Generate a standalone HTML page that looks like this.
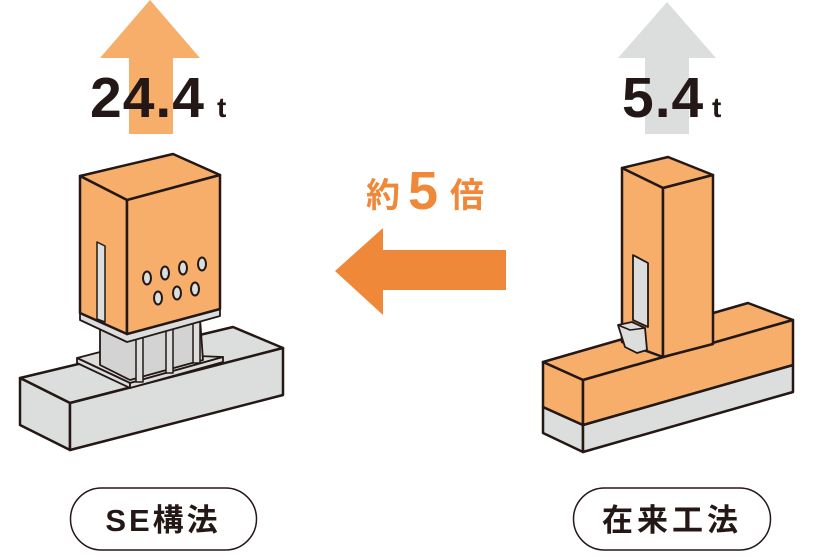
<!DOCTYPE html>
<html><head><meta charset="utf-8"><style>
html,body{margin:0;padding:0;background:#fff;width:813px;height:558px;overflow:hidden}
svg{display:block}
</style></head><body>
<svg width="813" height="558" viewBox="0 0 813 558" xmlns="http://www.w3.org/2000/svg">
<polygon points="150,0 200,58 173,58 173,134 129,134 129,58 100,58" fill="#f6ae6a"/>
<polygon points="667,2 716,58 689,58 689,134 645,134 645,58 618,58" fill="#dcdddd"/>
<g font-family="Liberation Sans, sans-serif" font-weight="bold" fill="#231815">
<text x="90" y="117" font-size="57" letter-spacing="1">24.4</text>
<text x="217" y="117" font-size="28">t</text>
<text x="622" y="117" font-size="57" letter-spacing="1">5.4</text>
<text x="712" y="117" font-size="28">t</text>
</g>
<g fill="#ef8838" font-weight="bold">
<text x="366" y="207" font-size="34" font-family="Noto Sans CJK JP, sans-serif">約</text>
<text x="408" y="209" font-size="54" font-family="Liberation Sans, sans-serif">5</text>
<text x="450" y="207" font-size="34" font-family="Noto Sans CJK JP, sans-serif">倍</text>
<polygon points="335,271 383,228 383,250 506,250 506,290 383,290 383,315" />
</g>
<g stroke="#231815" stroke-width="2.5" stroke-linejoin="round">
<polygon points="20,378 233,327 283,348 70,403" fill="#dcdddd"/>
<polygon points="20,378 70,403 70,450 20,425" fill="#dcdddd"/>
<polygon points="70,403 283,348 283,395 70,450" fill="#dcdddd"/>
<polygon points="77,358 100,352 223,357 130,383" fill="#dcdddd" stroke-width="1.8"/>
<polygon points="77,358 130,383 130,388 77,363" fill="#dcdddd" stroke-width="1.8"/>
<polygon points="130,383 223,357 223,362 130,388" fill="#dcdddd" stroke-width="1.8"/>
<polygon points="100,328 200,318 203,360 130,380 100,365" fill="#d3d3d3" stroke-width="1.8"/>
<rect x="136" y="330" width="7" height="52" fill="#dcdddd" stroke-width="1.5"/>
<rect x="166" y="325" width="7" height="48" fill="#dcdddd" stroke-width="1.5"/>
<rect x="193" y="318" width="7" height="45" fill="#dcdddd" stroke-width="1.5"/>
<polygon points="80,313 127,334 220,309 220,316 127,342 80,320" fill="#dcdddd" stroke-width="1.8"/>
<polygon points="80,176 173,154 220,175 127,200" fill="#f6ae6a"/>
<polygon points="80,176 127,200 127,334 80,313" fill="#f6ae6a"/>
<polygon points="127,200 220,175 220,309 127,334" fill="#f6ae6a"/>
<polygon points="97,242 105,246 105,322 97,319" fill="#dcdddd" stroke-width="1.5"/>
<g fill="#dcdddd" stroke-width="2">
<ellipse cx="147" cy="278" rx="4" ry="6.5"/><ellipse cx="165" cy="273" rx="4" ry="6.5"/>
<ellipse cx="183" cy="268" rx="4" ry="6.5"/><ellipse cx="202" cy="264" rx="4" ry="6.5"/>
<ellipse cx="158" cy="298" rx="4" ry="6.5"/><ellipse cx="177" cy="293" rx="4" ry="6.5"/>
<ellipse cx="195" cy="289" rx="4" ry="6.5"/>
</g>
<polygon points="543,362 748,303 793,320 583,380" fill="#f6ae6a"/>
<polygon points="543,407 583,425 583,452 543,433" fill="#dcdddd"/>
<polygon points="583,425 793,365 793,392 583,452" fill="#dcdddd"/>
<polygon points="543,362 583,380 583,425 543,407" fill="#f6ae6a"/>
<polygon points="583,380 793,320 793,365 583,425" fill="#f6ae6a"/>
<polygon points="622,168 668,157 713,175 663,188" fill="#f6ae6a"/>
<polygon points="622,168 663,188 663,357 622,342" fill="#f6ae6a"/>
<polygon points="663,188 713,175 713,344 663,357" fill="#f6ae6a"/>
<polygon points="633,255 648,263 648,327 633,320" fill="#dcdddd" stroke-width="1.8"/>
<polygon points="618,325 632,322 645,328 647,350 637,353 625,347" fill="#dcdddd" stroke-width="1.8"/>
<polyline points="618,325 630,330 645,328" fill="none" stroke-width="1.5"/>
<rect x="70.5" y="488" width="186" height="62" rx="31" fill="#fff" stroke-width="1.5"/>
<rect x="573.5" y="488" width="197" height="62" rx="31" fill="#fff" stroke-width="1.5"/>
</g>
<g fill="#231815" font-weight="bold" font-family="Liberation Sans, Noto Sans CJK JP, sans-serif" font-size="31" text-anchor="middle">
<text x="163" y="531" letter-spacing="3">SE構法</text>
<text x="672" y="531" letter-spacing="4">在来工法</text>
</g>
</svg>
</body></html>
